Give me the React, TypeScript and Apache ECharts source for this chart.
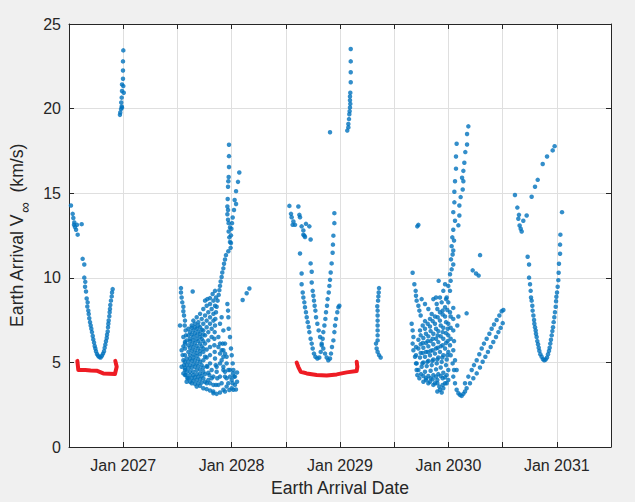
import React, { useEffect, useRef } from "react";
import * as echarts from "echarts";

// x = arrival date as decimal year, y = Earth arrival V-infinity (km/s)
const cluster2026: number[][] = [
  [2026.518,14.27],[2026.534,13.78],[2026.540,13.53],[2026.549,13.27],[2026.546,13.13],[2026.574,13.13],
  [2026.617,13.17],[2026.565,12.84],[2026.580,12.55],[2026.555,13.00],[2026.626,11.12],[2026.641,10.79],
  [2026.641,10.01],[2026.650,9.76],[2026.648,9.47],[2026.657,9.19],[2026.663,8.78],[2026.672,8.55],
  [2026.669,8.30],[2026.678,8.06],[2026.682,7.86],[2026.687,7.61],[2026.694,7.38],[2026.700,7.18],
  [2026.706,6.99],[2026.712,6.79],[2026.719,6.56],[2026.724,6.36],[2026.731,6.17],[2026.737,5.97],
  [2026.743,5.82],[2026.749,5.66],[2026.758,5.50],[2026.768,5.39],[2026.780,5.31],[2026.792,5.29],
  [2026.804,5.39],[2026.814,5.52],[2026.823,5.66],[2026.829,5.86],[2026.835,6.05],[2026.841,6.25],
  [2026.848,6.44],[2026.851,6.63],[2026.857,6.83],[2026.860,7.08],[2026.863,7.28],[2026.866,7.48],
  [2026.872,7.73],[2026.875,7.96],[2026.878,8.16],[2026.881,8.39],[2026.887,8.65],[2026.894,8.90],
  [2026.897,9.13],[2026.903,9.33]
];

const spike2027: number[][] = [
  [2027.001,23.44],[2026.998,22.79],[2026.998,22.25],[2026.998,21.76],[2026.989,21.43],[2027.001,21.33],
  [2026.989,21.04],[2027.005,20.94],[2026.986,20.65],[2026.982,20.36],[2026.986,20.12],[2026.989,20.06],
  [2026.980,19.97],[2026.973,19.77],[2026.970,19.63]
];

const cluster2028: number[][] = [
  // tall column
  [2027.976,17.86],[2027.976,17.19],[2027.976,16.55],[2027.973,15.96],[2027.970,15.71],[2027.967,15.38],
  [2027.964,14.66],[2027.961,14.21],[2027.967,14.01],[2027.961,13.76],[2027.967,13.43],[2027.973,13.23],
  [2027.985,12.98],[2027.973,12.74],[2027.979,12.39],[2027.985,12.12],[2027.991,11.77],[2027.970,11.57],
  [2027.948,11.34],[2027.939,11.08],[2027.930,10.83],[2027.924,10.56],[2027.914,10.31],[2027.908,10.05],
  [2027.899,9.78],[2027.893,9.52],[2027.887,9.27],[2027.881,8.99],[2027.871,8.65],[2027.862,8.29],
  [2027.856,7.96],[2027.850,7.57],[2027.847,7.18],[2027.844,6.79],[2027.841,6.40],[2027.841,6.01],
  [2027.844,5.62],[2027.847,5.23],[2027.853,4.84],[2027.862,4.45],[2027.868,4.06],[2027.856,3.67],
  [2027.831,3.28],
  // second branch
  [2028.071,16.22],[2028.059,15.67],[2028.041,15.12],[2028.028,14.60],[2028.041,14.36],[2028.022,14.01],
  [2028.010,13.56],[2028.004,13.23],[2027.998,12.90],[2027.994,12.51],[2027.994,12.06],
  // right edge
  [2027.961,8.45],[2027.967,8.06],[2027.970,7.67],[2027.973,6.99],[2027.985,6.50],[2027.994,5.82],
  [2028.001,5.42],[2028.010,4.94],[2028.016,4.55],[2028.022,4.16],[2028.010,3.77],[2028.001,3.47],
  [2027.979,3.37],[2027.939,3.28],
  [2028.013,4.35],[2028.031,4.16],[2028.050,3.86],[2028.040,3.40],[2028.050,4.40],
  [2027.924,5.72],[2027.954,5.33],[2027.985,4.55],[2028.001,3.96],[2028.031,3.67],[2028.016,3.38],
  // left arm
  [2027.533,9.39],[2027.533,9.13],[2027.539,8.84],[2027.545,8.55],[2027.555,8.29],[2027.555,8.02],
  [2027.561,7.77],[2027.570,7.47],[2027.567,7.18],[2027.576,6.89],[2027.524,7.18],[2027.579,6.60],
  [2027.585,6.30],[2027.555,5.95],[2027.539,5.72],[2027.548,5.43],[2027.555,5.13],[2027.561,4.84],
  [2027.570,4.55],[2027.579,4.25],[2027.592,4.06],[2027.616,3.86],[2027.555,6.50],[2027.570,6.11],
  [2027.539,4.74],[2027.555,4.35],
  // outliers
  [2027.641,9.19],[2028.102,8.69],[2028.139,9.09],[2028.164,9.37],
  // fan rows
  [2027.755,8.65],[2027.776,8.74],[2027.801,8.80],[2027.825,9.04],[2027.847,9.23],
  [2027.647,7.47],[2027.678,7.67],[2027.709,7.87],[2027.739,8.16],[2027.770,8.35],[2027.801,8.45],[2027.832,8.65],[2027.856,8.84],
  [2027.632,7.18],[2027.662,7.28],[2027.693,7.38],[2027.724,7.57],[2027.755,7.77],[2027.785,7.96],[2027.816,8.16],[2027.847,8.35],
  [2027.616,6.79],[2027.647,6.89],[2027.678,6.99],[2027.709,7.08],[2027.739,7.28],[2027.770,7.47],[2027.801,7.67],[2027.832,7.87],
  [2027.616,6.40],[2027.647,6.50],[2027.678,6.60],[2027.709,6.69],[2027.739,6.89],[2027.770,7.08],[2027.801,7.28],[2027.832,7.47],
  [2027.601,6.01],[2027.632,6.07],[2027.662,6.15],[2027.693,6.26],[2027.724,6.40],[2027.755,6.60],[2027.785,6.79],[2027.816,6.99],
  [2027.601,5.62],[2027.632,5.68],[2027.662,5.72],[2027.693,5.82],[2027.724,5.95],[2027.755,6.11],[2027.785,6.30],[2027.816,6.50],
  [2027.585,5.23],[2027.616,5.23],[2027.647,5.29],[2027.678,5.37],[2027.709,5.48],[2027.739,5.62],[2027.770,5.76],[2027.801,5.91],
  [2027.585,4.84],[2027.616,4.84],[2027.647,4.90],[2027.678,4.94],[2027.709,5.04],[2027.739,5.13],[2027.770,5.29],[2027.801,5.43],
  [2027.585,4.45],[2027.616,4.45],[2027.647,4.45],[2027.678,4.55],[2027.709,4.59],[2027.739,4.68],[2027.770,4.78],[2027.801,4.94],
  [2027.601,4.06],[2027.632,4.06],[2027.662,4.12],[2027.693,4.16],[2027.724,4.20],[2027.755,4.31],[2027.785,4.39],[2027.816,4.55],
  [2027.632,3.77],[2027.662,3.73],[2027.693,3.77],[2027.724,3.81],[2027.755,3.86],[2027.785,3.96],[2027.816,4.06],
  [2027.739,3.47],[2027.770,3.42],[2027.801,3.34],[2027.832,3.18],[2027.862,3.14],[2027.893,3.22],[2027.924,3.38],[2027.954,3.57],
  // in-between rows
  [2027.601,6.99],[2027.632,7.05],[2027.662,7.08],[2027.693,7.18],
  [2027.601,6.60],[2027.632,6.65],[2027.662,6.73],[2027.693,6.83],[2027.724,6.93],
  [2027.570,6.21],[2027.616,6.25],[2027.647,6.30],[2027.678,6.38],[2027.709,6.50],[2027.739,6.65],
  [2027.570,5.82],[2027.616,5.85],[2027.647,5.91],[2027.678,5.97],[2027.709,6.11],[2027.739,6.26],
  [2027.570,5.43],[2027.616,5.43],[2027.647,5.48],[2027.678,5.56],[2027.709,5.68],[2027.739,5.82],
  [2027.570,5.04],[2027.601,5.04],[2027.632,5.09],[2027.662,5.13],[2027.693,5.19],
  [2027.570,4.65],[2027.601,4.65],[2027.632,4.68],[2027.662,4.74],[2027.693,4.78],[2027.724,4.84],
  [2027.570,4.25],[2027.616,4.25],[2027.647,4.25],[2027.678,4.31],[2027.709,4.35],[2027.739,4.45],
  [2027.585,3.86],[2027.647,3.92],[2027.678,3.96],[2027.709,4.00],[2027.739,4.06],
  [2027.678,3.57],[2027.709,3.61],
  // diagonal band and fill near column
  [2027.878,6.50],[2027.893,6.11],[2027.908,5.72],[2027.924,5.33],[2027.893,4.94],[2027.924,4.55],
  [2027.939,4.16],[2027.908,3.77],[2027.878,3.67],[2027.893,7.28],[2027.908,7.67],[2027.924,6.89],
  [2027.939,6.11],[2027.893,4.16],[2027.832,4.16],[2027.862,4.74],[2027.801,3.77],[2027.832,3.67],
  [2027.770,3.77],[2027.755,5.33],[2027.776,4.74],[2027.795,4.25],
  [2027.878,5.91],[2027.893,5.52],[2027.908,5.13],[2027.924,4.74],[2027.939,4.45],[2027.954,4.06],
  [2027.970,3.77],[2027.985,4.16],[2027.970,4.55],[2027.954,4.94],[2027.939,5.52],[2027.918,6.11]
];

const cluster2029: number[][] = [
  // upper-left group
  [2028.533,14.25],[2028.616,14.21],[2028.548,13.78],[2028.554,13.58],[2028.570,13.33],[2028.563,13.13],
  [2028.585,13.13],[2028.625,13.72],[2028.631,13.58],[2028.646,13.04],[2028.662,12.80],[2028.662,12.55],
  [2028.677,12.41],[2028.686,13.19],[2028.717,13.04],[2028.729,12.26],[2028.631,11.44],[2028.671,12.49],
  // first V
  [2028.646,10.25],[2028.646,9.62],[2028.656,9.13],[2028.662,8.84],[2028.671,8.55],[2028.677,8.26],
  [2028.686,7.96],[2028.693,7.67],[2028.702,7.38],[2028.711,7.09],[2028.717,6.79],[2028.729,6.40],
  [2028.739,6.11],[2028.748,5.82],[2028.760,5.52],[2028.773,5.33],[2028.791,5.23],[2028.809,5.29],
  [2028.822,5.62],[2028.831,6.01],[2028.840,6.40],[2028.846,6.79],[2028.856,7.18],[2028.865,7.57],
  [2028.871,7.96],[2028.880,8.35],[2028.886,8.74],[2028.896,9.13],[2028.902,9.52],[2028.908,9.88],
  [2028.914,10.31],[2028.923,10.85],[2028.932,11.48],[2028.935,11.96],[2028.939,12.49],[2028.948,13.23],
  [2028.948,13.82],
  // second V
  [2028.729,10.85],[2028.739,10.36],[2028.739,9.72],[2028.748,9.23],[2028.754,8.94],[2028.760,8.65],
  [2028.766,8.35],[2028.773,8.06],[2028.779,7.67],[2028.791,7.28],[2028.803,6.89],[2028.816,6.50],
  [2028.831,6.11],[2028.846,5.82],[2028.862,5.52],[2028.877,5.29],[2028.892,5.13],
  [2028.908,5.23],[2028.917,5.52],[2028.926,5.91],[2028.939,6.30],[2028.948,6.79],[2028.954,7.18],
  [2028.963,7.57],[2028.975,7.96],[2028.985,8.26],[2028.994,8.35]
];

const spike2029: number[][] = [
  [2029.067,18.70],[2029.077,18.89],[2029.077,19.09],[2029.083,19.38],[2029.086,19.67],[2029.089,19.85],
  [2029.092,20.07],[2029.095,20.28],[2029.092,20.49],[2029.092,20.72],[2029.095,20.94],[2029.099,21.56],
  [2029.099,22.15],[2029.099,22.79],[2029.099,23.52],[2028.908,18.60]
];

const column2029: number[][] = [
  [2029.360,9.39],[2029.357,9.13],[2029.354,8.90],[2029.351,8.65],[2029.344,8.32],[2029.347,8.06],
  [2029.347,7.77],[2029.347,7.47],[2029.347,7.18],[2029.347,6.89],[2029.347,6.60],[2029.347,6.30],
  [2029.332,6.11],[2029.338,5.82],[2029.347,5.62],[2029.360,5.43],[2029.375,5.29]
];

const cluster2030: number[][] = [
  // tall column
  [2030.184,18.95],[2030.172,18.50],[2030.076,17.92],[2030.172,17.88],[2030.070,17.17],[2030.156,17.43],
  [2030.070,16.45],[2030.147,16.80],[2030.138,16.32],[2030.126,15.91],[2030.061,15.71],[2030.138,15.71],
  [2030.132,15.22],[2030.055,15.09],[2030.113,14.77],[2030.101,14.27],[2030.055,14.46],[2030.045,13.88],
  [2030.101,13.68],[2030.061,13.37],[2030.092,13.10],[2030.045,12.84],[2030.036,12.39],[2030.052,12.20],
  [2030.030,11.87],[2030.045,11.61],[2030.039,11.38],[2030.024,11.09],[2030.045,10.79],[2030.030,10.50],
  [2030.015,10.21],[2030.021,9.82],[2029.999,9.52],[2030.015,9.23],[2029.984,8.84],
  // outliers
  [2029.723,13.13],[2029.713,13.04],[2030.292,11.34],[2030.224,10.44],[2030.255,10.25],[2030.279,10.13],
  [2029.670,10.30],[2029.910,9.82],[2030.168,7.90],
  // left arms
  [2029.686,9.62],[2029.698,9.23],[2029.701,8.94],[2029.707,8.65],[2029.723,8.35],[2029.732,8.06],
  [2029.744,7.77],[2029.661,7.28],[2029.670,6.89],[2029.677,6.50],[2029.670,6.11],[2029.677,5.72],
  [2029.692,5.33],[2029.701,4.94],[2029.707,4.55],[2029.713,4.25],[2029.732,4.06],[2029.769,3.86],
  [2029.815,3.77],[2029.861,3.67],[2029.898,3.28],[2029.922,3.38],[2029.953,3.47],
  // diagonals
  [2029.753,8.74],[2029.784,8.45],[2029.815,8.16],[2029.846,7.86],[2029.861,8.74],[2029.886,8.84],
  [2029.892,8.45],[2029.938,8.55],[2029.978,8.74],[2029.898,8.16],[2029.947,8.06],[2029.922,8.84],
  [2029.953,9.23],[2029.969,9.62],
  // dense rows
  [2029.784,7.44],[2029.830,7.57],[2029.876,7.71],[2029.922,7.96],[2029.969,8.26],[2029.999,8.55],
  [2029.738,6.89],[2029.784,6.99],[2029.830,7.12],[2029.876,7.28],[2029.922,7.47],[2029.969,7.71],[2030.015,7.96],[2030.045,8.22],
  [2029.723,6.34],[2029.769,6.44],[2029.815,6.54],[2029.861,6.69],[2029.907,6.85],[2029.953,7.05],[2029.999,7.28],[2030.045,7.57],[2030.092,7.71],
  [2029.723,5.82],[2029.769,5.87],[2029.815,5.95],[2029.861,6.07],[2029.907,6.20],[2029.953,6.40],[2029.999,6.60],[2030.045,6.89],[2030.082,7.18],
  [2029.738,5.29],[2029.784,5.33],[2029.830,5.42],[2029.876,5.52],[2029.922,5.62],[2029.969,5.82],[2030.015,6.01],[2030.052,6.26],
  [2029.753,4.74],[2029.800,4.78],[2029.846,4.84],[2029.892,4.94],[2029.938,5.03],[2029.984,5.17],[2030.021,5.42],
  [2029.769,4.20],[2029.815,4.20],[2029.861,4.25],[2029.907,4.31],[2029.953,4.39],[2029.999,4.55],
  [2029.830,3.86],[2029.876,3.77],[2029.916,3.57],[2029.938,3.22],[2029.969,3.77],[2029.999,3.96],
  [2029.763,7.18],[2029.809,7.28],[2029.855,7.44],[2029.901,7.67],[2029.947,7.83],[2029.990,8.10],
  [2029.744,6.60],[2029.793,6.69],[2029.836,6.85],[2029.886,6.99],[2029.929,7.18],[2029.978,7.38],[2030.021,7.71],
  [2029.744,6.07],[2029.793,6.15],[2029.836,6.26],[2029.886,6.40],[2029.929,6.54],[2029.978,6.73],[2030.021,7.05],
  [2029.744,5.56],[2029.793,5.62],[2029.836,5.68],[2029.886,5.82],[2029.929,5.95],[2029.978,6.15],[2030.021,6.40],
  [2029.769,5.00],[2029.815,5.09],[2029.861,5.17],[2029.907,5.29],[2029.953,5.42],[2029.999,5.62],
  [2029.784,4.45],[2029.836,4.51],[2029.886,4.59],[2029.929,4.70],[2029.978,4.84],
  [2029.793,3.96],[2029.855,4.00],[2029.898,3.96],[2029.947,4.06],[2029.984,4.25],
  [2030.045,5.72],[2030.061,5.13],[2030.076,4.55],
  // extra fill in the dense core
  [2029.701,5.91],[2029.701,5.42],[2029.707,4.94],[2029.723,4.55],[2029.747,4.31],[2029.793,4.06],
  [2029.836,4.06],[2029.886,4.16],[2029.929,4.20],[2029.969,4.12],[2029.898,3.77],[2029.947,3.67],
  [2029.984,3.77],[2029.760,4.94],[2029.806,5.03],[2029.852,5.09],[2029.898,5.17],[2029.944,5.29],
  [2029.990,5.42],[2029.763,5.56],[2029.809,5.62],[2029.855,5.72],[2029.901,5.87],[2029.947,6.01],
  [2029.993,6.26],[2029.763,6.15],[2029.809,6.26],[2029.855,6.40],[2029.901,6.60],[2029.947,6.79],
  [2029.993,6.99]
];

const branch2030: number[][] = [
  [2030.039,4.94],[2030.052,4.55],[2030.045,4.16],[2030.061,3.77],[2030.076,3.38],[2030.092,3.18],
  [2030.107,3.08],[2030.122,3.02],[2030.138,3.14],[2030.153,3.28],
  [2030.153,3.77],[2030.184,4.16],[2030.215,4.55],[2030.236,4.84],[2030.261,5.13],[2030.285,5.48],
  [2030.307,5.82],[2030.328,6.11],[2030.353,6.40],[2030.378,6.69],[2030.399,6.99],[2030.421,7.24],
  [2030.445,7.51],[2030.470,7.77],[2030.491,8.02],[2030.507,8.10],
  [2030.168,3.47],[2030.199,3.77],[2030.230,4.06],[2030.261,4.35],[2030.291,4.70],[2030.316,5.04],
  [2030.341,5.33],[2030.365,5.62],[2030.390,5.91],[2030.414,6.21],[2030.439,6.50],[2030.461,6.79],
  [2030.482,7.04],[2030.501,7.32]
];

const cluster2031: number[][] = [
  [2030.614,14.89],[2030.636,14.15],[2030.651,13.72],[2030.645,13.49],[2030.657,13.09],[2030.667,12.90],
  [2030.676,12.74],[2030.691,13.37],[2030.722,13.68],[2030.768,14.79],[2030.799,15.38],[2030.824,15.79],
  [2030.870,16.73],[2030.910,17.17],[2030.962,17.53],[2030.980,17.78],
  [2030.731,11.24],[2030.744,10.79],[2030.744,10.01],[2030.753,9.62],[2030.759,9.23],[2030.762,8.84],
  [2030.768,8.65],[2030.774,8.35],[2030.777,8.06],[2030.784,7.77],[2030.790,7.51],[2030.793,7.28],
  [2030.799,7.08],[2030.805,6.89],[2030.808,6.69],[2030.814,6.50],[2030.820,6.26],[2030.827,6.07],
  [2030.833,5.87],[2030.839,5.68],[2030.848,5.48],[2030.860,5.33],[2030.873,5.19],[2030.885,5.13],
  [2030.897,5.17],[2030.910,5.29],
  [2030.919,5.48],[2030.928,5.68],[2030.934,5.87],[2030.940,6.11],[2030.946,6.34],[2030.953,6.60],
  [2030.959,6.85],[2030.965,7.08],[2030.971,7.38],[2030.977,7.67],[2030.983,7.96],[2030.990,8.29],
  [2030.993,8.61],[2030.996,8.88],[2031.002,9.13],[2031.008,9.47],[2031.014,9.86],[2031.017,10.30],
  [2031.020,10.83],[2031.030,11.42],[2031.030,11.96],[2031.033,12.55],[2031.048,13.88]
];

const redLow2026: number[][] = [
  [2026.577,5.09],[2026.586,4.55],[2026.650,4.55],[2026.700,4.52],[2026.755,4.51],[2026.816,4.35],
  [2026.870,4.33],[2026.924,4.31],[2026.940,4.74],[2026.927,5.09]
];

const redLow2028: number[][] = [
  [2028.600,4.99],[2028.615,4.74],[2028.637,4.45],[2028.693,4.35],[2028.785,4.26],[2028.877,4.22],
  [2028.970,4.29],[2029.062,4.41],[2029.154,4.49],[2029.160,4.74],[2029.154,5.04]
];

const xMin = 2026.5;
const xMax = 2031.5;
const yTicks = [0, 5, 10, 15, 20, 25];

const FONT = "'Liberation Sans', Arial, Helvetica, sans-serif";
const INK = "#262626";

export default function App() {
  const ref = useRef<HTMLDivElement>(null);
  useEffect(() => {
    if (!ref.current) return;
    const chart = echarts.init(ref.current, undefined, { renderer: "svg" });
    const blue = ([] as number[][]).concat(
      cluster2026, spike2027, cluster2028, cluster2029, spike2029, column2029,
      cluster2030, branch2030, cluster2031
    );
    const frameAxis = {
      type: "value" as const,
      axisLine: { show: true, onZero: false, lineStyle: { color: INK, width: 1 } },
      axisTick: { show: true, inside: true, length: 5, lineStyle: { color: INK } },
    };
    const xFmt = (v: number) =>
      Math.abs(v - Math.round(v)) < 1e-6 ? "Jan " + Math.round(v) : "";
    chart.setOption({
      animation: false,
      backgroundColor: "#f0f0f0",
      textStyle: { fontFamily: FONT },
      grid: {
        left: 69, right: 24, top: 24, bottom: 51,
        show: true, backgroundColor: "#ffffff", borderWidth: 0,
      },
      xAxis: [
        {
          ...frameAxis, position: "bottom", min: xMin, max: xMax, interval: 0.5,
          name: "Earth Arrival Date", nameLocation: "middle", nameGap: 32,
          nameTextStyle: { fontSize: 17.6, color: INK, fontFamily: FONT },
          axisLabel: { fontSize: 16, color: INK, margin: 10, formatter: xFmt, fontFamily: FONT },
          splitLine: { show: true, lineStyle: { color: "#dfdfdf", width: 1 } },
        },
        {
          ...frameAxis, position: "top", min: xMin, max: xMax, interval: 0.5,
          axisLabel: { show: false }, splitLine: { show: false },
        },
      ],
      yAxis: [
        {
          ...frameAxis, position: "left", min: yTicks[0], max: yTicks[yTicks.length - 1], interval: 5,
          name: "{a|Earth Arrival V}{b|∞}{a|  (km/s)}", nameLocation: "middle", nameGap: 33,
          nameTextStyle: {
            color: INK, fontFamily: FONT,
            rich: {
              a: { fontSize: 17.6, color: INK, fontFamily: FONT, lineHeight: 22, verticalAlign: "top" },
              b: { fontSize: 15, color: INK, fontFamily: FONT, lineHeight: 16, padding: [9, 0, 0, 1], verticalAlign: "top" },
            },
          },
          axisLabel: { fontSize: 16, color: INK, margin: 8, fontFamily: FONT },
          splitLine: { show: true, lineStyle: { color: "#dfdfdf", width: 1 } },
        },
        {
          ...frameAxis, position: "right", min: yTicks[0], max: yTicks[yTicks.length - 1], interval: 5,
          axisLabel: { show: false }, splitLine: { show: false },
        },
      ],
      series: [
        {
          type: "scatter", xAxisIndex: 0, yAxisIndex: 0, data: blue,
          symbol: "circle", symbolSize: 4.5, itemStyle: { color: "#0072BD" },
        },
        {
          type: "line", xAxisIndex: 0, yAxisIndex: 0, data: redLow2026, showSymbol: false,
          lineStyle: { color: "#ee1c24", width: 4, cap: "round", join: "round" },
        },
        {
          type: "line", xAxisIndex: 0, yAxisIndex: 0, data: redLow2028, showSymbol: false,
          lineStyle: { color: "#ee1c24", width: 4, cap: "round", join: "round" },
        },
      ],
    });
    return () => chart.dispose();
  }, []);
  return (
    <div
      ref={ref}
      style={{ position: "fixed", left: 0, top: 0, width: 635, height: 502, background: "#f0f0f0" }}
    />
  );
}
